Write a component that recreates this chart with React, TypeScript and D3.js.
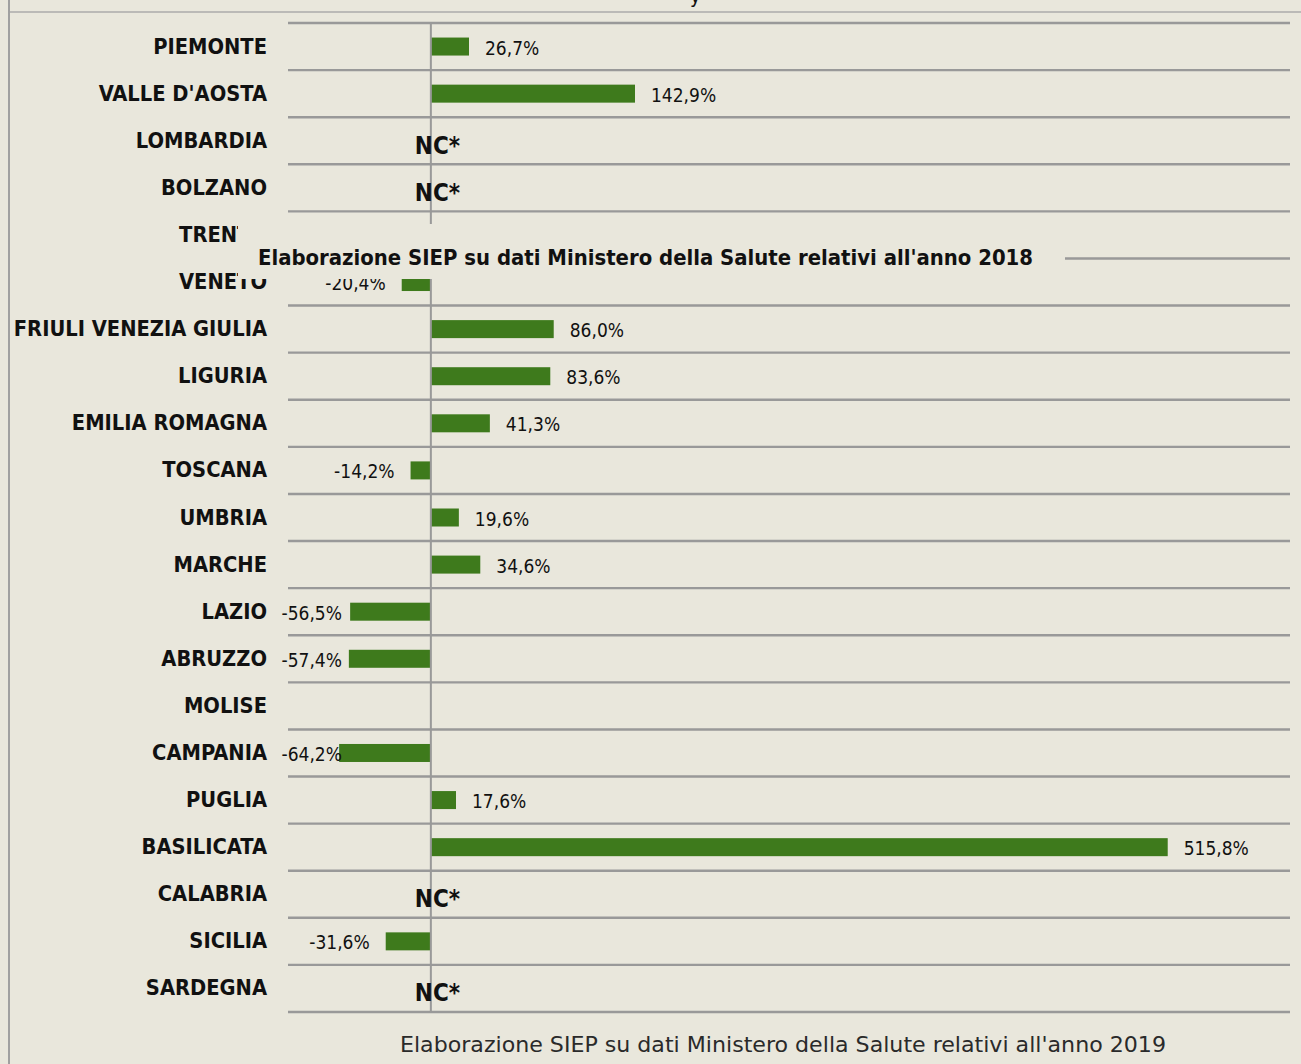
import React from 'react';
import * as d3 from 'd3';

const regions = [
  'PIEMONTE', "VALLE D'AOSTA", 'LOMBARDIA', 'BOLZANO', 'TRENTO', 'VENETO',
  'FRIULI VENEZIA GIULIA', 'LIGURIA', 'EMILIA ROMAGNA', 'TOSCANA', 'UMBRIA',
  'MARCHE', 'LAZIO', 'ABRUZZO', 'MOLISE', 'CAMPANIA', 'PUGLIA', 'BASILICATA',
  'CALABRIA', 'SICILIA', 'SARDEGNA',
];
const variation: (number | null)[] = [
  26.7, 142.9, null, null, null, -20.4, 86.0, 83.6, 41.3, -14.2, 19.6, 34.6,
  -56.5, -57.4, null, -64.2, 17.6, 515.8, null, -31.6, null,
];
const notComputed = ['LOMBARDIA', 'BOLZANO', 'CALABRIA', 'SARDEGNA'];
const ncLabel = 'NC*';
const xDomain = [-100, 600];
const source2018 = "Elaborazione SIEP su dati Ministero della Salute relativi all'anno 2018";
const source2019 = "Elaborazione SIEP su dati Ministero della Salute relativi all'anno 2019";

const W = 1301;
const H = 1064;
const BG = '#e9e7dc';
const GRID = '#999999';
const BAR = '#3e7a1c';
const FONT = "'DejaVu Sans Condensed', 'DejaVu Sans', sans-serif";

const itLocale = d3.formatLocale({
  decimal: ',', thousands: '.', grouping: [3], currency: ['€', ''], minus: '-',
});
const fmt = itLocale.format('.1f');

export default function App() {
  const x = d3.scaleLinear().domain(xDomain).range([288, 1288]);
  const y = d3.scaleBand<string>().domain(regions).range([23, 1012]).padding(0);
  const bh = 18;
  const x0 = x(0);
  const bounds = regions.map((r) => y(r) as number).concat([1012]);

  return (
    <svg width={W} height={H} style={{ position: 'absolute', left: 0, top: 0, display: 'block' }}
      fontFamily={FONT}>
      <rect x={0} y={0} width={W} height={H} fill={BG} />
      <text x={690} y={3} fontSize={20} fill="#111" fontFamily={FONT}>y</text>
      <line x1={9} x2={W} y1={12} y2={12} stroke="#ababab" strokeWidth={1.6} />
      <line x1={9} x2={9} y1={0} y2={H} stroke="#a0a0a0" strokeWidth={2} />

      {bounds.map((b, i) => (
        <line key={'g' + i} x1={288} x2={1290} y1={b} y2={b} stroke={GRID} strokeWidth={2.4} />
      ))}

      {regions.map((r, i) => {
        const v = variation[i];
        const cy = (y(r) as number) + y.bandwidth() / 2;
        if (v === null) return null;
        const xa = x(Math.min(0, v));
        const xb = x(Math.max(0, v));
        return <rect key={'b' + r} x={xa} y={cy - bh / 2} width={xb - xa} height={bh} fill={BAR} />;
      })}

      <line x1={x0} x2={x0} y1={23} y2={1012} stroke={GRID} strokeWidth={2} />

      {regions.map((r) => {
        const cy = (y(r) as number) + y.bandwidth() / 2;
        return (
          <text key={'l' + r} x={267} y={cy + 7} textAnchor="end" fontSize={21.7} fontWeight="bold"
            fill="#111" style={{ fontStretch: 'condensed' }}>{r}</text>
        );
      })}

      {regions.map((r, i) => {
        const v = variation[i];
        const cy = (y(r) as number) + y.bandwidth() / 2;
        if (v === null) return null;
        const label = fmt(v) + '%';
        if (v >= 0) {
          return (
            <text key={'v' + r} x={x(v) + 16} y={cy + 8} fontSize={19} fill="#111"
              style={{ fontStretch: 'condensed' }}>{label}</text>
          );
        }
        const approxW = 58;
        const end = Math.max(x(v) - 16, 284 + approxW);
        return (
          <text key={'v' + r} x={end} y={cy + 8} textAnchor="end" fontSize={19} fill="#111"
            style={{ fontStretch: 'condensed' }}>{label}</text>
        );
      })}

      {regions.map((r) => {
        if (!notComputed.includes(r)) return null;
        const cy = (y(r) as number) + y.bandwidth() / 2;
        return (
          <text key={'nc' + r} x={x0 - 16} y={cy + 13} fontSize={24} fontWeight="bold" fill="#111"
            style={{ fontStretch: 'condensed' }}>{ncLabel}</text>
        );
      })}

      <rect x={238} y={224} width={1065 - 238} height={279 - 224} fill={BG} />
      <text x={258} y={265} fontSize={21} fontWeight="bold" fill="#111" textLength={775}
        lengthAdjust="spacingAndGlyphs" style={{ fontStretch: 'condensed' }}>{source2018}</text>

      <text x={400} y={1052} fontSize={22} fill="#2a2a2a" textLength={766}
        lengthAdjust="spacingAndGlyphs" style={{ fontStretch: 'condensed' }}>{source2019}</text>
    </svg>
  );
}
